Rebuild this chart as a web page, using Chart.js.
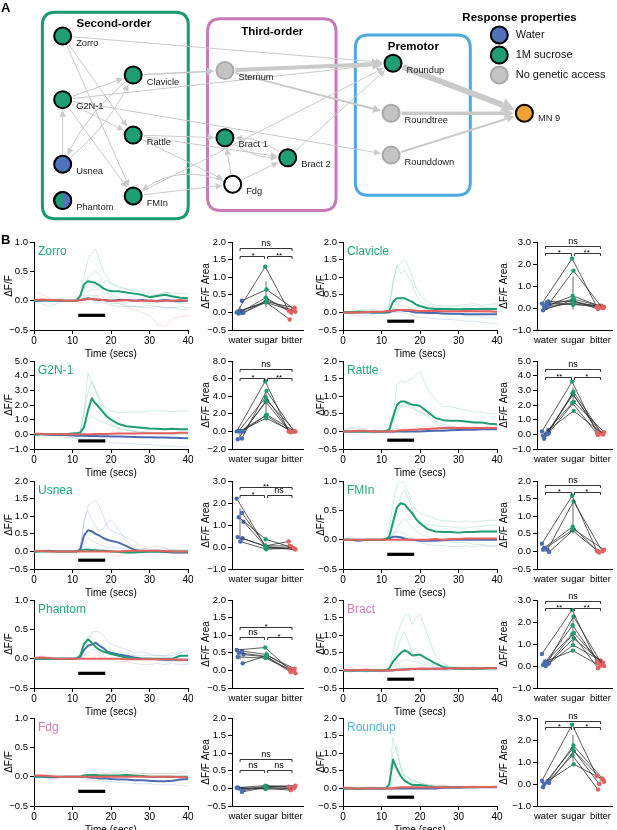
<!DOCTYPE html>
<html><head><meta charset="utf-8">
<script src="https://cdn.jsdelivr.net/npm/chart.js@4.4.1/dist/chart.umd.min.js"></script>
<style>
body{margin:0;width:617px;height:830px;position:relative;background:#fff;font-family:"Liberation Sans",Arial,sans-serif;overflow:hidden}
.c{position:absolute}
.lbl{position:absolute;font-weight:bold;font-size:13px;color:#000}
</style></head><body>
<div id="root"></div>
<div class="lbl" style="left:1px;top:0px">A</div>
<div class="lbl" style="left:1px;top:232px">B</div>
<script>
// ---------------- DATA ----------------
const T = [0,2,4,6,8,10,11,12,13,14,15,16,17,18,19,20,22,24,26,28,30,32,34,36,38,40];
const STIM_ON = 11.5, STIM_OFF = 18.5;
const dotCategories = ['water','sugar','bitter'];

// Panel A network
const nodeNames = ['Zorro','Clavicle','G2N-1','Rattle','Usnea','Phantom','FMIn','Sternum','Bract 1','Bract 2','Fdg','Roundup','Roundtree','Rounddown','MN 9'];
const nodeX = [54,127,54,127,54,54,127,222,222,287,230,396,394,394,532];
const nodeY = [28,71,98,137,169,209,204,66,140,162,191,58,113,159,113];
const nodeType = ['sucrose','sucrose','sucrose','sucrose','water','both','sucrose','none','sucrose','sucrose','unknown','sucrose','none','none','motor'];
const edgeFrom   = [0,0,0,2,2,2,2,2,4,4,1,1,3,3,3,6,6,10,10,10,8,9,9,7,7,11,12,13];
const edgeTo     = [11,3,6,1,3,6,11,13,2,1,4,7,8,9,10,10,11,6,8,9,9,8,11,11,12,14,14,14];
const edgeWeight = [1,1,1,1,1,1,1,1,1,1,1,1.5,1,1,1,1,1,1,1,1,1,1,1,4,2,6,3.5,2];
const edgeBend   = [0,0,0,0,0,0,0,0,0,0.1,0.1,0,0,0,0,0,0,0.25,0,0,0.15,0.15,0,0,0,0,0,0];
const legendLabels = ['Water','1M sucrose','No genetic access'];

// Panel B traces (ΔF/F) — mean and individual
const zorroGreen = [0,0.01,0,0.01,0,0, 0,0.08,0.28,0.33,0.32,0.3,0.26,0.21,0.18,0.16, 0.16,0.14,0.12,0.1,0.06,0.08,0.1,0.07,0.05,0.04];
const zorroBlue  = [0,0,0.01,0,0,0, 0,0.01,0.02,0.04,0.03,0.02,0.01,0.01,0,0, 0.01,0.01,0,0.01,0,0,0.01,0,-0.01,0];
const zorroRed   = [0.01,0.02,0.01,0.01,0,0, 0,0.01,0.02,0.03,0.03,0.02,0.02,0.01,0.01,0, 0,0.01,0,0,0,-0.01,0,0,0.01,0];
const zorroFaintGreen = [
 [0,0.02,0,0.03,0,0, 0.02,0.1,0.4,0.7,0.8,0.88,0.7,0.5,0.4,0.3, 0.25,0.2,0.18,0.15,0.12,0.1,0.14,0.13,0.12,0.12],
 [0.02,0,-0.02,0,0.01,0, 0,0.05,0.2,0.4,0.45,0.5,0.45,0.3,0.35,0.28, 0.22,0.2,0.15,0.1,0.08,0.1,0.15,0.1,0.06,0.05],
 [-0.02,0,0.03,0,-0.02,0, 0,0.02,0.1,0.15,0.2,0.18,0.2,0.15,0.12,0.1, 0.05,0.02,0,-0.02,-0.05,-0.03,0,-0.02,-0.05,-0.05],
 [0,-0.05,-0.1,-0.05,0,0, 0,0,0.05,0.1,0.08,0.1,0.05,0,-0.02,-0.05, -0.05,-0.08,-0.1,-0.1,-0.08,-0.1,-0.12,-0.12,-0.15,-0.15]];
const zorroFaintBlue = [[0,0,0,-0.02,0,0, 0,0,0,0.02,0,0,-0.02,-0.05,-0.05,-0.08, -0.1,-0.1,-0.1,-0.12,-0.12,-0.1,-0.12,-0.12,-0.1,-0.12]];
const zorroFaintRed = [[0.15,0.1,0.05,0,0,0, 0,0,0.02,0,0.05,0.08,0.1,0.05,0,0, -0.05,-0.1,-0.15,-0.2,-0.25,-0.4,-0.45,-0.3,-0.28,-0.25]];

const clavicleGreen = [0,0.01,0.02,0.02,0,0, 0,0.05,0.3,0.4,0.4,0.4,0.35,0.3,0.22,0.18, 0.12,0.1,0.1,0.1,0.09,0.1,0.1,0.1,0.1,0.1];
const clavicleBlue  = [0,0,0,0,0,0, 0,0,0.05,0.06,0.06,0.05,0.04,0.02,0,0, -0.02,-0.02,-0.03,-0.04,-0.04,-0.05,-0.05,-0.05,-0.05,-0.05];
const clavicleRed   = [0,0,0,0.01,0.02,0.02, 0.03,0.04,0.05,0.06,0.07,0.07,0.07,0.06,0.05,0.04, 0.04,0.04,0.03,0.03,0.03,0.04,0.03,0.03,0.03,0.02];
const clavicleFaintGreen = [
 [0,-0.05,0.05,0.1,0.05,0, 0,0.1,0.8,1.3,1.4,1.5,1.3,1.0,0.7,0.5, 0.3,0.2,0.2,0.18,0.2,0.22,0.25,0.2,0.22,0.25],
 [0,0,0.05,0,0.1,0, 0,0.2,0.9,1.35,1.1,1.2,1.0,0.8,0.5,0.3, 0.2,0.15,0.15,0.15,0.15,0.15,0.2,0.15,0.15,0.15],
 [0,0,0,0,0,0, 0,0,0.1,0.15,0.2,0.2,0.15,0.1,0.05,0.05, 0,0,-0.05,-0.05,-0.05,-0.1,-0.1,-0.12,-0.15,-0.15]];
const clavicleFaintBlue = [[0,-0.05,-0.1,-0.08,-0.05,0, 0,0,0,0,0,-0.02,-0.05,-0.1,-0.12,-0.15, -0.15,-0.18,-0.2,-0.2,-0.22,-0.25,-0.25,-0.28,-0.3,-0.32]];
const clavicleFaintRed = [[0,0,0,0,0,0, 0,0.05,0.1,0.1,0.05,0.05,0.08,0.05,0.1,0.05, 0.1,0.15,0.1,0.05,0.05,0,0.05,0,0,0]];

const g2n1Green = [-0.05,0,0,0.02,0,0.05, 0.08,0.1,0.5,1.6,2.45,2.1,1.8,1.5,1.2,1.0, 0.7,0.55,0.5,0.45,0.4,0.38,0.35,0.38,0.35,0.35];
const g2n1Blue  = [0,0,-0.02,-0.05,-0.05,-0.08, -0.1,-0.1,-0.1,-0.12,-0.12,-0.12,-0.13,-0.13,-0.13,-0.14, -0.15,-0.17,-0.18,-0.2,-0.2,-0.22,-0.22,-0.24,-0.25,-0.26];
const g2n1Red   = [0.05,0.02,0,0,0,0, 0,0,0,0,0,0.02,0.03,0.03,0.03,0.04, 0.05,0.05,0.06,0.07,0.07,0.08,0.08,0.08,0.1,0.1];
const g2n1FaintGreen = [
 [0,0,0,0,0,0.1, 0.1,0.2,1.5,4.2,3.5,3.0,2.5,2.0,1.7,1.6, 1.5,1.5,1.55,1.5,1.6,1.6,1.6,1.55,1.6,1.6],
 [0,0,0,0,0,0, 0,0.2,1.5,2.8,3.6,3.0,2.2,1.5,1.0,0.7, 0.4,0.3,0.2,0.2,0.15,0.1,0.1,0.1,0.05,0.05],
 [0,0,0,0,0,0, 0,0.1,0.5,1.0,1.2,1.1,0.9,0.8,0.7,0.6, 0.4,0.3,0.2,0.1,0.1,0,0,0,0,0]];
const g2n1FaintBlue = [[0.1,0,-0.1,-0.1,-0.2,-0.2, -0.3,-0.3,-0.35,-0.4,-0.4,-0.45,-0.5,-0.5,-0.5,-0.55, -0.6,-0.6,-0.65,-0.7,-0.7,-0.75,-0.8,-0.8,-0.85,-0.85]];
const g2n1FaintRed = [];

const rattleGreen = [0,0,0,0,0,0, 0,0.05,0.4,0.75,0.85,0.85,0.8,0.76,0.75,0.72, 0.55,0.38,0.32,0.3,0.3,0.28,0.25,0.25,0.22,0.2];
const rattleBlue  = [0,0,0,0,0,0, 0,0,0,0,0,0,0,0,0,0, 0.01,0.02,0.02,0.03,0.04,0.05,0.05,0.06,0.06,0.06];
const rattleRed   = [0,0,0.02,0.02,0,0, 0,0,0,0.02,0.03,0.03,0.04,0.05,0.05,0.06, 0.07,0.08,0.1,0.1,0.1,0.1,0.1,0.1,0.1,0.1];
const rattleFaintGreen = [
 [0,0,0,0,0,0, 0,0.1,0.5,1.3,1.45,1.4,1.45,1.5,1.6,1.7, 1.2,0.9,0.7,0.7,0.65,0.6,0.55,0.55,0.5,0.5],
 [0,0.1,0.15,0,0,0, 0,0,0.3,0.6,0.75,0.7,0.72,0.65,0.6,0.6, 0.4,0.2,0.15,0.12,0.1,0.1,0.1,0.08,0.08,0.05],
 [0,0,0,0,0,0, 0,0,0.2,0.5,0.7,0.8,0.75,0.7,0.6,0.55, 0.45,0.3,0.2,0.15,0.1,0.1,0.05,0.05,0.05,0.05]];
const rattleFaintBlue = [[0,-0.05,0,0,-0.05,0, 0,0,-0.05,0,0,-0.05,0,0,0,0, 0,0.02,0.05,0.05,0.05,0.08,0.08,0.1,0.08,0.08]];
const rattleFaintRed = [[0.05,0.1,0.05,0,0.05,0.1, 0.05,0.1,0.05,0.1,0.05,0.1,0.1,0.05,0.1,0.1, 0.15,0.1,0.1,0.15,0.12,0.15,0.15,0.1,0.15,0.15]];

const usneaGreen = [0,0,0,0,0,0, 0,0.02,0.05,0.05,0.04,0.03,0.02,0.02,0.01,0, -0.02,-0.03,-0.03,-0.02,0,0,0,0,0,0];
const usneaBlue  = [0,0.01,0.02,0,0,0, 0,0.05,0.45,0.6,0.57,0.5,0.45,0.38,0.33,0.3, 0.25,0.15,0.05,0,0,0,-0.02,-0.03,-0.03,-0.03];
const usneaRed   = [0.02,0.01,0,0,0,0, 0,0,0,0,0,0,0,0,0,0, 0,0.01,0.02,0.02,0.02,0.02,0.01,0,0,0];
const usneaFaintGreen = [[0,0,0,0,0,0, 0,0,0.05,0.1,0.1,0.08,0.05,0.05,0.03,0.02, 0,0,-0.02,-0.02,0,0.02,0.02,0.05,0.05,0.05]];
const usneaFaintBlue = [
 [0,0,0,0,0,0, 0,0.1,0.8,1.3,1.4,1.45,1.3,1.0,0.7,0.6, 0.5,0.4,0.3,0.1,0.05,0.05,0,0,0,0],
 [0,0,0,0,0,0, 0,0.1,0.9,1.15,0.9,0.7,0.6,0.65,0.8,0.9, 0.6,0.3,0.1,0.05,0,0.05,0.1,0.05,0,0],
 [0,0,0,0,0,0, 0,0,0.2,0.4,0.3,0.25,0.2,0.15,0.1,0.1, 0.1,0.05,0,0,0,0,0,-0.05,-0.05,-0.05]];
const usneaFaintRed = [[0,0,0,0,0,0, 0,0,0,0,0,0,0,0,-0.05,-0.1, -0.15,-0.1,0,0.05,0.1,0.15,0.1,0,-0.05,0]];

const fmlnGreen = [0,0,0,0,0,0, 0.01,0.05,0.3,0.55,0.62,0.6,0.52,0.45,0.35,0.28, 0.18,0.14,0.13,0.13,0.12,0.13,0.13,0.14,0.14,0.14];
const fmlnBlue  = [0,0,-0.02,0,0,0, 0,0.02,0.05,0.05,0.04,0.02,0,0,-0.01,-0.02, -0.02,-0.02,-0.01,0,0,0,0,0,0,0];
const fmlnRed   = [0,0,0,0,0,0, 0,0,0,0,0,0,0,0,0,0, 0,0.01,0,0.01,0.01,0.02,0.02,0.02,0.02,0.02];
const fmlnFaintGreen = [
 [0,0,0,0,0,0, 0,0.2,0.6,0.95,1.0,0.95,0.8,0.6,0.5,0.45, 0.4,0.35,0.32,0.32,0.3,0.32,0.3,0.32,0.33,0.33],
 [0,0.05,0,0,0,0, 0,0,0.2,0.5,0.75,0.85,0.7,0.5,0.35,0.3, 0.25,0.25,0.22,0.22,0.2,0.2,0.22,0.22,0.25,0.25],
 [0,0,0,0,0,0, 0,0,0.1,0.2,0.3,0.35,0.3,0.2,0.15,0.1, 0.05,0,-0.02,-0.05,-0.05,-0.05,-0.08,-0.08,-0.1,-0.1]];
const fmlnFaintBlue = [[0,0,0,0,0,0, 0,0.05,0.1,0.15,0.12,0.1,0.05,0.02,0,-0.05, -0.08,-0.1,-0.1,-0.12,-0.12,-0.1,-0.12,-0.1,-0.12,-0.12]];
const fmlnFaintRed = [];

const phantomGreen = [0,0,0,0,0,0, 0,0.05,0.25,0.33,0.27,0.2,0.15,0.12,0.1,0.08, 0.05,0.02,0,0,0,0,0,0,0.05,0.05];
const phantomBlue  = [0,0,0,0,0,0, 0,0.03,0.15,0.22,0.24,0.27,0.22,0.18,0.12,0.1, 0.07,0.05,0.02,0,0,-0.01,-0.02,-0.02,-0.02,-0.02];
const phantomRed   = [0.01,0.02,0.01,0,0,0, 0,0,0,0,0,0,0,0,0,0, 0,-0.01,-0.01,-0.01,-0.01,-0.01,-0.01,-0.01,-0.02,-0.02];
const phantomFaintGreen = [[0,0,0,0,0,0, 0,0.1,0.3,0.4,0.35,0.3,0.25,0.2,0.15,0.15, 0.1,0.1,0.05,0.05,0.05,0.05,0.05,0.1,0.1,0.12]];
const phantomFaintBlue = [
 [0,0,0,0,0,0, 0,0,0.1,0.3,0.45,0.47,0.45,0.4,0.3,0.25, 0.2,0.15,0.1,0.12,0.08,0.05,0.05,0.05,0.1,0.15],
 [0,0,-0.02,0,0,0, 0,0,0.05,0.1,0.15,0.15,0.1,0.05,0,-0.02, -0.05,-0.05,-0.08,-0.1,-0.1,-0.08,-0.1,-0.08,-0.1,-0.1]];
const phantomFaintRed = [[0,0.05,0,0,0,0, 0,0,0,0,0,0.05,0.05,0,0,0, 0,0.05,0.05,0,0,0,-0.05,-0.05,-0.05,-0.05]];

const bractGreen = [0,0,0,0,0,0, 0,0.05,0.25,0.38,0.5,0.57,0.52,0.42,0.44,0.45, 0.32,0.2,0.1,0.06,0.05,0.05,0.05,0.05,0.06,0.06];
const bractBlue  = [0,0,0,0,0,0, 0,0,0,0.02,0.02,0.03,0.03,0.05,0.05,0.05, 0.05,0.05,0.05,0.06,0.06,0.06,0.06,0.06,0.07,0.07];
const bractRed   = [0.02,0,0.01,0.02,0,0, 0,0,0.01,0.02,0.02,0.02,0.03,0.04,0.04,0.05, 0.05,0.05,0.05,0.06,0.06,0.06,0.06,0.06,0.06,0.06];
const bractFaintGreen = [
 [0,0,0,0,0,0, 0,0.1,0.5,1.0,1.3,1.55,1.6,1.3,1.5,1.6, 1.0,0.4,0.2,0.1,0.1,0.08,0.08,0.08,0.08,0.08],
 [0,0,0,0,0,0, 0,0.05,0.3,0.6,0.9,1.1,0.8,0.5,0.4,0.3, 0.2,0.15,0.1,0.08,0.05,0.05,0.05,0.05,0.05,0.05],
 [0,0,0,0,0,0, 0,0,0.1,0.2,0.25,0.3,0.3,0.25,0.25,0.2, 0.15,0.1,0.05,0.05,0.05,0.05,0.1,0.05,0.05,0.05]];
const bractFaintBlue = [[0,-0.05,0,0.05,0,-0.05, 0,0,0,0,0.05,0,0,0,0.05,0, 0,0.05,0,0,0.05,0.05,0,0.05,0,0]];
const bractFaintRed = [[0.05,0.1,0,-0.05,0,0.05, 0,0,0,0.05,0,0.05,0,0.05,0,0.1, 0.05,0,0.05,0.1,0.05,0,0.1,0.05,0.1,0.05]];

const fdgGreen = [0,0.01,0,0,0,0, 0,0,0.02,0.03,0.03,0.03,0.02,0.02,0.02,0.02, 0.02,0.03,0.02,0.01,0,0,0,0,0,0];
const fdgBlue  = [0,0,-0.01,-0.01,0,0, 0,0,0,-0.01,-0.02,-0.02,-0.03,-0.03,-0.03,-0.04, -0.05,-0.05,-0.06,-0.06,-0.07,-0.08,-0.08,-0.07,-0.05,-0.04];
const fdgRed   = [0.02,0.02,0.01,0,0,0, 0,0,0,0,0,0,0,0,0,0, 0,0,0,0,0,0,0,0,-0.01,-0.01];
const fdgFaintGreen = [[0,0,0,0,0,0, 0,0,0.05,0.08,0.08,0.08,0.05,0.05,0.06,0.08, 0.08,0.1,0.08,0.06,0.05,0.05,0.05,0.06,0.08,0.1]];
const fdgFaintBlue = [[0,0,-0.02,-0.02,0,0, 0,-0.02,-0.04,-0.05,-0.06,-0.06,-0.07,-0.08,-0.08,-0.08, -0.1,-0.1,-0.12,-0.12,-0.12,-0.14,-0.14,-0.14,-0.15,-0.16]];
const fdgFaintRed = [[0,0,0,0,0,0, 0,0,0.02,0.03,0.05,0.05,0.04,0.04,0.05,0.05, 0.06,0.06,0.05,0.05,0.04,0.05,0.05,0.05,0.06,0.06]];

const roundupGreen = [0,0,0,0,0,0, 0,0.1,0.82,0.55,0.35,0.22,0.15,0.1,0.1,0.1, 0.06,0.04,0.03,0.03,0.03,0.03,0.03,0.04,0.04,0.05];
const roundupBlue  = [0,0,-0.02,0,0,0, 0,0,0,0,0,0,0,0,0,0, 0,0,0.02,0.02,0.02,0.03,0.03,0.03,0.03,0.03];
const roundupRed   = [0.02,0,0,0,0,0, 0,0,0,0.02,0.03,0.03,0.03,0.03,0.03,0.03, 0.03,0.03,0.03,0.03,0.03,0.04,0.04,0.04,0.04,0.04];
const roundupFaintGreen = [
 [0,0,0,0,0,0, 0,0.2,1.45,1.0,0.6,0.3,0.2,0.15,0.12,0.1, 0.1,0.05,0.05,0.05,0.05,0.05,0.05,0.05,0.05,0.05],
 [0,0,0,0,0,0, 0,0.1,1.0,1.2,0.6,0.4,0.3,0.2,0.2,0.15, 0.1,0.1,0.08,0.05,0.05,0.05,0.05,0.05,0.05,0.05],
 [0,0,0,0,0,0, 0,0,0.2,0.3,0.4,0.35,0.3,0.25,0.2,0.15, 0.1,0.05,0.05,0.05,0.05,0.05,0.05,0.05,0.05,0.05]];
const roundupFaintBlue = [];
const roundupFaintRed = [[0.05,0.05,0,0.05,0.05,0, 0,0.05,0.05,0.05,0.05,0.05,0.05,0.1,0.05,0.05, 0.05,0.08,0.1,0.05,0.05,0.05,0.08,0.05,0.05,0.05]];

// Panel B response areas (ΔF/F Area), per fly
const zorroWater = [0.0,0.33,-0.03,0.0,0.02,-0.02,0.05];
const zorroSugar = [1.3,0.65,0.42,0.35,0.3,0.3,0.28];
const zorroBitter = [0.05,0.1,0.0,0.02,-0.2,0.13,0.05];
const clavicleWater = [0.2,0.1,0.05,0.15,-0.1,0.3,0.0,0.1,0.25];
const clavicleSugar = [2.25,1.7,0.55,0.4,0.35,0.3,0.25,0.2,0.15];
const clavicleBitter = [0.05,0.0,0.1,0.05,-0.05,0.0,0.08,0.02,0.1];
const g2n1Water = [0.0,-0.8,0.05,0.0,-0.9,0.0,0.05,0.0];
const g2n1Sugar = [5.7,4.6,3.9,3.5,3.4,1.9,1.5,1.8];
const g2n1Bitter = [0,0,-0.1,0,0,0,0,-0.05];
const rattleWater = [0.2,0.0,-0.3,0.1,-0.1,0.3,0.0];
const rattleSugar = [3.6,2.9,2.8,2.2,2.15,1.6,2.7];
const rattleBitter = [0.1,0.0,0.05,0.15,-0.05,0.0,0.1];
const usneaWater = [2.2,1.55,1.35,1.15,0.45,0.4,0.25];
const usneaSugar = [0.05,0.0,0.35,-0.05,0.05,0.0,-0.1];
const usneaBitter = [0.25,-0.05,0.0,-0.1,0.05,-0.1,-0.05];
const fmlnWater = [0.22,0.05,0.1,-0.02,0.05];
const fmlnSugar = [1.58,1.42,0.7,0.62,0.6];
const fmlnBitter = [0.02,0.0,-0.03,0.05,0.0];
const phantomWater = [0.58,0.55,0.5,0.45,0.38,0.2];
const phantomSugar = [0.65,0.45,0.4,0.38,0.35,0.42];
const phantomBitter = [0.05,0.0,-0.05,-0.08,0.02,0.05];
const bractWater = [0.55,0.15,0.1,0.15,0.05,0.1,0.0,0.2];
const bractSugar = [2.55,2.25,1.85,1.5,1.45,1.25,0.95,0.7];
const bractBitter = [0.2,0.05,0.1,0.0,-0.1,0.15,0.25,0.0];
const fdgWater = [0.02,-0.1,0.0,-0.05,0.03,-0.02];
const fdgSugar = [0.08,0.03,0.0,0.05,-0.02,0.06];
const fdgBitter = [0.05,0.0,-0.05,0.08,0.0,0.03];
const roundupWater = [0.15,0.1,0.0,0.05,-0.15,0.15];
const roundupSugar = [2.7,1.75,1.6,1.5,1.3,0.9];
const roundupBitter = [0.35,0.25,0.0,0.1,-0.25,0.2];

// significance labels [water-bitter, water-sugar, sugar-bitter]
const zorroSig = ['ns','*','**'], clavicleSig = ['ns','*','**'], g2n1Sig = ['ns','*','**'], rattleSig = ['ns','**','*'], usneaSig = ['**','*','ns'];
const fmlnSig = ['ns','*','*'], phantomSig = ['*','ns','*'], bractSig = ['ns','**','**'], fdgSig = ['ns','ns','ns'], roundupSig = ['ns','*','*'];

// ---------------- STYLE / LAYOUT ----------------
const C = {green:'#1e9e72', blue:'#4a6cb2', red:'#e3625f', black:'#000'};
const FAINT = {green:'rgba(30,158,114,0.2)', blue:'rgba(74,108,178,0.2)', red:'rgba(227,98,95,0.2)'};
const TITLE_COL = {green:'#25a97a', pink:'#cf7db4', cyan:'#5ab2de'};
const JITTER = [-0.13,0.07,-0.05,0.13,-0.09,0.1,0.01,-0.02,0.04]; // horizontal dot spread (style)
const ROW_TOP = [242,361,481,600,718];
const PLOT_H = 88, PAD_TOP = 8, XAX_H = 34;
const COLS = [
  {line:{left:0,yw:34,w:195,pr:7}, dot:{left:197,yw:35,w:113,pr:7}},
  {line:{left:312,yw:31,w:192,pr:7}, dot:{left:495,yw:42,w:122,pr:5}}
];
Chart.defaults.font.family = "'Liberation Sans', Arial, sans-serif";
Chart.defaults.font.size = 10;
Chart.defaults.color = '#000';

const panels = [
 {name:'Zorro', tc:'green', col:0,row:0, y:[-0.5,1.0,0.5], d:[-0.5,2.0,0.5], stimY:-0.25, g:zorroGreen,b:zorroBlue,r:zorroRed, fg:zorroFaintGreen,fb:zorroFaintBlue,fr:zorroFaintRed, w:zorroWater,s:zorroSugar,bi:zorroBitter, sig:zorroSig, sigY:[1.83,1.6]},
 {name:'Clavicle', tc:'green', col:1,row:0, y:[-0.5,2.0,0.5], d:[-1,3,1], stimY:-0.25, g:clavicleGreen,b:clavicleBlue,r:clavicleRed, fg:clavicleFaintGreen,fb:clavicleFaintBlue,fr:clavicleFaintRed, w:clavicleWater,s:clavicleSugar,bi:clavicleBitter, sig:clavicleSig, sigY:[2.82,2.5]},
 {name:'G2N-1', tc:'green', col:0,row:1, y:[-1,5,1], d:[-2,8,2], stimY:-0.45, g:g2n1Green,b:g2n1Blue,r:g2n1Red, fg:g2n1FaintGreen,fb:g2n1FaintBlue,fr:g2n1FaintRed, w:g2n1Water,s:g2n1Sugar,bi:g2n1Bitter, sig:g2n1Sig, sigY:[7.1,6.1]},
 {name:'Rattle', tc:'green', col:1,row:1, y:[-0.5,2.0,0.5], d:[-1,5,1], stimY:-0.25, g:rattleGreen,b:rattleBlue,r:rattleRed, fg:rattleFaintGreen,fb:rattleFaintBlue,fr:rattleFaintRed, w:rattleWater,s:rattleSugar,bi:rattleBitter, sig:rattleSig, sigY:[4.46,3.92]},
 {name:'Usnea', tc:'green', col:0,row:2, y:[-0.5,2.0,0.5], d:[-1,3,1], stimY:-0.25, g:usneaGreen,b:usneaBlue,r:usneaRed, fg:usneaFaintGreen,fb:usneaFaintBlue,fr:usneaFaintRed, w:usneaWater,s:usneaSugar,bi:usneaBitter, sig:usneaSig, sigY:[2.73,2.36]},
 {name:'FMIn', tc:'green', col:1,row:2, y:[-0.5,1.0,0.5], d:[-0.5,2.0,0.5], stimY:-0.25, g:fmlnGreen,b:fmlnBlue,r:fmlnRed, fg:fmlnFaintGreen,fb:fmlnFaintBlue,fr:fmlnFaintRed, w:fmlnWater,s:fmlnSugar,bi:fmlnBitter, sig:fmlnSig, sigY:[1.9,1.7]},
 {name:'Phantom', tc:'green', col:0,row:3, y:[-0.5,1.0,0.5], d:[-0.5,2.0,0.5], stimY:-0.25, g:phantomGreen,b:phantomBlue,r:phantomRed, fg:phantomFaintGreen,fb:phantomFaintBlue,fr:phantomFaintRed, w:phantomWater,s:phantomSugar,bi:phantomBitter, sig:phantomSig, sigY:[1.23,0.95]},
 {name:'Bract', tc:'pink', col:1,row:3, y:[-0.5,2.0,0.5], d:[-1,3,1], stimY:-0.25, g:bractGreen,b:bractBlue,r:bractRed, fg:bractFaintGreen,fb:bractFaintBlue,fr:bractFaintRed, w:bractWater,s:bractSugar,bi:bractBitter, sig:bractSig, sigY:[2.95,2.64]},
 {name:'Fdg', tc:'pink', col:0,row:4, y:[-0.5,1.0,0.5], d:[-0.5,2.0,0.5], stimY:-0.25, g:fdgGreen,b:fdgBlue,r:fdgRed, fg:fdgFaintGreen,fb:fdgFaintBlue,fr:fdgFaintRed, w:fdgWater,s:fdgSugar,bi:fdgBitter, sig:fdgSig, sigY:[0.83,0.52]},
 {name:'Roundup', tc:'cyan', col:1,row:4, y:[-0.5,2.0,0.5], d:[-1,3,1], stimY:-0.25, g:roundupGreen,b:roundupBlue,r:roundupRed, fg:roundupFaintGreen,fb:roundupFaintBlue,fr:roundupFaintRed, w:roundupWater,s:roundupSugar,bi:roundupBitter, sig:roundupSig, sigY:[2.86,2.6]}
];

// ---------------- HELPERS ----------------
const root = document.getElementById('root');
function makeCanvas(left, top, w, h){
  const d = document.createElement('div'); d.className='c';
  d.style.left=left+'px'; d.style.top=top+'px'; d.style.width=w+'px'; d.style.height=h+'px';
  const c = document.createElement('canvas'); c.width=w; c.height=h; c.style.width=w+'px'; c.style.height=h+'px';
  d.appendChild(c); root.appendChild(d); return c;
}
function fmt(v){ const s=Math.abs(v).toFixed(1); return (v < -1e-9 ? '\u2212' : '') + s; }
const xy = arr => arr.map((v,i)=>({x:T[i], y:v}));
function yAxis(r, title, w){
  return {min:r[0], max:r[1],
    ticks:{stepSize:r[2], callback:fmt, padding:2, color:'#000', font:{size:9.5}},
    grid:{drawOnChartArea:false, drawTicks:true, tickLength:4, color:'#000', lineWidth:1},
    border:{display:true, color:'#000', width:1},
    title:{display:true, text:title, color:'#000', font:{size:10}, padding:{top:3,bottom:0}},
    afterFit:s=>{s.width=w;}};
}
const baseOpts = {responsive:false, animation:false, events:[],
  plugins:{legend:{display:false}, tooltip:{enabled:false}}};

const labelPlugin = {
  id:'panelLabel',
  afterDraw(chart){
    const o = chart.options.plugins.panelLabel; if(!o) return;
    const {ctx, chartArea} = chart;
    ctx.save(); ctx.font = "12px 'Liberation Sans', Arial, sans-serif"; ctx.fillStyle=o.color;
    ctx.textAlign='left'; ctx.textBaseline='middle';
    ctx.fillText(o.text, chartArea.left+4, chartArea.top+10); ctx.restore();
  }
};
const sigPlugin = {
  id:'sig',
  afterDatasetsDraw(chart){
    const o = chart.options.plugins.sig; if(!o) return;
    const {ctx, scales:{x,y}} = chart;
    const x0=x.getPixelForValue(0), x1=x.getPixelForValue(1), x2=x.getPixelForValue(2);
    const yt=Math.round(y.getPixelForValue(o.y[0]))+0.5, yl=Math.round(y.getPixelForValue(o.y[1]))+0.5;
    ctx.save(); ctx.strokeStyle='#000'; ctx.lineWidth=0.8;
    const br=(a,b,yy)=>{ctx.beginPath(); ctx.moveTo(a,yy+2.5); ctx.lineTo(a,yy); ctx.lineTo(b,yy); ctx.lineTo(b,yy+2.5); ctx.stroke();};
    br(x0,x2,yt); br(x0,x1-1.5,yl); br(x1+1.5,x2,yl);
    ctx.fillStyle='#000'; ctx.textAlign='center'; ctx.textBaseline='bottom';
    const lab=(t,cx,yy)=>{ ctx.font = (t==='ns' ? "9px " : "8px ") + "'Liberation Sans', Arial, sans-serif"; ctx.fillText(t,cx,t==='ns'?yy:yy+3); };
    lab(o.labels[0],(x0+x2)/2,yt); lab(o.labels[1],(x0+x1)/2,yl); lab(o.labels[2],(x1+x2)/2,yl);
    ctx.restore();
  }
};

function mean(a){return a.reduce((s,v)=>s+v,0)/a.length;}
function sd(a){const m=mean(a); return Math.sqrt(a.reduce((s,v)=>s+(v-m)*(v-m),0)/(a.length-1));}

// ---------------- PANEL B ----------------
panels.forEach(p=>{
  const colL = COLS[p.col].line, colD = COLS[p.col].dot;
  const top = ROW_TOP[p.row]-PAD_TOP, h = PAD_TOP+PLOT_H+XAX_H;
  // line chart
  const ds = [];
  ds.push({data:[{x:STIM_ON,y:p.stimY},{x:STIM_OFF,y:p.stimY}], borderColor:'#000', borderWidth:3.2, borderCapStyle:'butt', order:0});
  ds.push({data:xy(p.r), borderColor:C.red, borderWidth:2, order:1});
  ds.push({data:xy(p.g), borderColor:C.green, borderWidth:2, order:2});
  ds.push({data:xy(p.b), borderColor:C.blue, borderWidth:2, order:3});
  let k=10;
  p.fg.forEach(a=>ds.push({data:xy(a), borderColor:FAINT.green, borderWidth:1, order:k++}));
  p.fb.forEach(a=>ds.push({data:xy(a), borderColor:FAINT.blue, borderWidth:1, order:k++}));
  p.fr.forEach(a=>ds.push({data:xy(a), borderColor:FAINT.red, borderWidth:1, order:k++}));
  new Chart(makeCanvas(colL.left, top, colL.w, h), {
    type:'line', data:{datasets:ds},
    options:{...baseOpts,
      layout:{padding:{top:PAD_TOP,right:colL.pr,left:0,bottom:0}},
      elements:{point:{radius:0}, line:{tension:0, borderJoinStyle:'round'}},
      plugins:{...baseOpts.plugins, panelLabel:{text:p.name, color:TITLE_COL[p.tc]}},
      scales:{
        x:{type:'linear', min:0, max:40,
          ticks:{stepSize:10, padding:1, color:'#000', font:{size:10}, maxRotation:0},
          grid:{drawOnChartArea:false, drawTicks:true, tickLength:4, color:'#000'},
          border:{display:true, color:'#000', width:1},
          title:{display:true, text:'Time (secs)', color:'#000', font:{size:10}, padding:{top:0,bottom:4}},
          afterFit:s=>{s.height=XAX_H;}},
        y:yAxis(p.y,'\u0394F/F',colL.yw)
      }},
    plugins:[labelPlugin]
  });
  // dot chart
  const dd = [];
  const groups=[p.w,p.s,p.bi], gcol=[C.blue,C.green,C.red];
  p.w.forEach((_,i)=>{ const j=JITTER[i%JITTER.length];
     dd.push({data:[{x:0+j,y:p.w[i]},{x:1+j*0.25,y:p.s[i]},{x:2+j,y:p.bi[i]}],
     showLine:true, borderColor:'#333', borderWidth:0.8, pointRadius:2.2, pointBorderWidth:0,
     pointBackgroundColor:gcol, order:5}); });
  groups.forEach((g,j)=>{ const m=mean(g), e=sd(g);
     dd.push({data:[{x:j,y:m-e},{x:j,y:m+e}], showLine:true, borderColor:'rgba(150,150,150,0.7)', borderWidth:2, pointRadius:0, order:20}); });
  new Chart(makeCanvas(colD.left, top, colD.w, h), {
    type:'scatter', data:{datasets:dd},
    options:{...baseOpts,
      layout:{padding:{top:PAD_TOP,right:colD.pr,left:0,bottom:0}},
      plugins:{...baseOpts.plugins, sig:{labels:p.sig, y:p.sigY}},
      scales:{
        x:{type:'linear', min:-0.31, max:2.42,
          afterBuildTicks:s=>{s.ticks=[{value:0},{value:1},{value:2}];},
          ticks:{callback:v=>dotCategories[v], padding:1, color:'#000', font:{size:9.5}, maxRotation:0, autoSkip:false},
          grid:{drawOnChartArea:false, drawTicks:true, tickLength:4, color:'rgba(0,0,0,0)'},
          border:{display:true, color:'#000', width:1},
          afterFit:s=>{s.height=XAX_H;}},
        y:yAxis(p.d,'\u0394F/F Area',colD.yw)
      }},
    plugins:[sigPlugin]
  });
});

// ---------------- PANEL A ----------------
const NODE_FILL = {sucrose:C.green, water:'#4f72b8', both:C.green, none:'#c4c4c4', unknown:'#ffffff', motor:'#f0a233'};
const NODE_EDGE = {sucrose:'#000', water:'#000', both:'#000', none:'#a9a9a9', unknown:'#000', motor:'#000'};
const boxes = [
  {x0:33,y0:2,x1:184,y1:229,color:'#1a9a70',title:'Second-order',tx:107,ty:15},
  {x0:204,y0:9,x1:337,y1:220,color:'#c77ab3',title:'Third-order',tx:271,ty:23},
  {x0:357,y0:27,x1:476,y1:203,color:'#4ea9de',title:'Premotor',tx:417,ty:40}
];
const legendPos = {x:506, y:[27,49,71], tx:523, title:'Response properties', ttx:527, tty:8};
const EDGE_COL = '#cacaca';
function rrect(ctx,x,y,w,h,r){ctx.beginPath();ctx.moveTo(x+r,y);ctx.lineTo(x+w-r,y);ctx.quadraticCurveTo(x+w,y,x+w,y+r);ctx.lineTo(x+w,y+h-r);ctx.quadraticCurveTo(x+w,y+h,x+w-r,y+h);ctx.lineTo(x+r,y+h);ctx.quadraticCurveTo(x,y+h,x,y+h-r);ctx.lineTo(x,y+r);ctx.quadraticCurveTo(x,y,x+r,y);ctx.closePath();}
const netPlugin = {
  id:'net',
  beforeDatasetsDraw(chart){
    const {ctx, scales:{x,y}} = chart;
    const X=v=>x.getPixelForValue(v), Y=v=>y.getPixelForValue(v);
    ctx.save();
    boxes.forEach(b=>{ ctx.strokeStyle=b.color; ctx.lineWidth=3; rrect(ctx,X(b.x0),Y(b.y0),X(b.x1)-X(b.x0),Y(b.y1)-Y(b.y0),13); ctx.stroke(); });
    ctx.strokeStyle=EDGE_COL; ctx.fillStyle=EDGE_COL; ctx.lineCap='butt';
    edgeFrom.forEach((f,k)=>{
      const t=edgeTo[k], w=edgeWeight[k], bend=edgeBend[k];
      const ax=X(nodeX[f]), ay=Y(nodeY[f]), bx=X(nodeX[t]), by=Y(nodeY[t]);
      const dx=bx-ax, dy=by-ay;
      let cx=(ax+bx)/2, cy=(ay+by)/2;
      if(bend){ cx += -dy*bend; cy += dx*bend; }
      let ex=bx-cx, ey=by-cy; const el=Math.hypot(ex,ey); ex/=el; ey/=el;
      const R=10.5, tipX=bx-ex*R, tipY=by-ey*R;
      const hl=5.5+w*1.2, hw=2.6+w*0.75;
      const baseX=tipX-ex*hl, baseY=tipY-ey*hl;
      let sx=cx-ax, sy=cy-ay; const sl=Math.hypot(sx,sy); sx/=sl; sy/=sl;
      ctx.lineWidth=w; ctx.beginPath(); ctx.moveTo(ax+sx*R, ay+sy*R);
      if(bend) ctx.quadraticCurveTo(cx,cy,baseX,baseY); else ctx.lineTo(baseX,baseY);
      ctx.stroke();
      ctx.beginPath(); ctx.moveTo(tipX,tipY); ctx.lineTo(baseX-ey*hw, baseY+ex*hw); ctx.lineTo(baseX+ey*hw, baseY-ex*hw); ctx.closePath(); ctx.fill();
    });
    ctx.restore();
  },
  afterDatasetsDraw(chart){
    const {ctx, scales:{x,y}} = chart;
    const X=v=>x.getPixelForValue(v), Y=v=>y.getPixelForValue(v);
    ctx.save();
    nodeType.forEach((tp,i)=>{ if(tp!=='both') return;
      const px=X(nodeX[i]), py=Y(nodeY[i]);
      ctx.fillStyle='#4f72b8'; ctx.beginPath(); ctx.arc(px,py,8.5,-Math.PI/2,Math.PI/2); ctx.closePath(); ctx.fill();
      ctx.strokeStyle='#000'; ctx.lineWidth=2; ctx.beginPath(); ctx.arc(px,py,8.5,0,Math.PI*2); ctx.stroke();
    });
    ctx.textAlign='left'; ctx.textBaseline='middle';
    ctx.font="9.3px 'Liberation Sans', Arial, sans-serif"; ctx.fillStyle='#222';
    nodeNames.forEach((n,i)=>{ ctx.fillText(n, X(nodeX[i])+13.5, Y(nodeY[i])+ (i===14?5:7)); });
    ctx.font="bold 11.5px 'Liberation Sans', Arial, sans-serif"; ctx.fillStyle='#000'; ctx.textAlign='center';
    boxes.forEach(b=>ctx.fillText(b.title, X(b.tx), Y(b.ty)));
    ctx.fillText(legendPos.title, X(legendPos.ttx), Y(legendPos.tty));
    ctx.font="11px 'Liberation Sans', Arial, sans-serif"; ctx.textAlign='left'; ctx.fillStyle='#111';
    legendLabels.forEach((l,i)=>ctx.fillText(l, X(legendPos.tx), Y(legendPos.y[i])));
    ctx.restore();
  }
};
const legendTypes=['water','sucrose','none'];
new Chart(makeCanvas(0,0,617,232), {
  type:'scatter',
  data:{datasets:[
    {data:nodeX.map((v,i)=>({x:v,y:nodeY[i]})), pointRadius:8.5, pointBorderWidth:2,
     pointBackgroundColor:nodeType.map(t=>NODE_FILL[t]), pointBorderColor:nodeType.map(t=>NODE_EDGE[t])},
    {data:legendPos.y.map(v=>({x:legendPos.x,y:v})), pointRadius:8.5, pointBorderWidth:2,
     pointBackgroundColor:legendTypes.map(t=>NODE_FILL[t]), pointBorderColor:legendTypes.map(t=>NODE_EDGE[t])}
  ]},
  options:{...baseOpts, layout:{padding:0}, clip:false,
    scales:{x:{type:'linear',min:0,max:617,display:false}, y:{type:'linear',min:0,max:232,reverse:true,display:false}}},
  plugins:[netPlugin]
});
</script>
</body></html>
